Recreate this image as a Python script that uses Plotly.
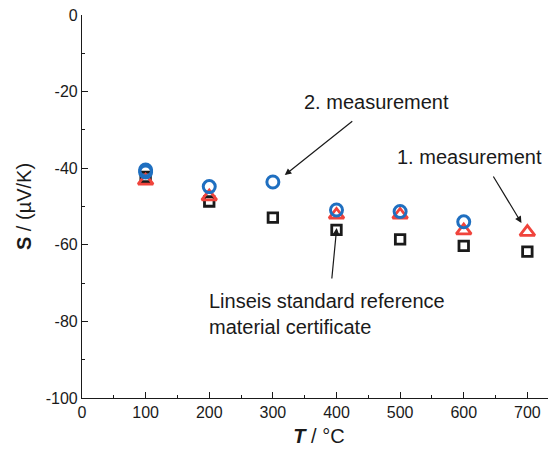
import plotly.graph_objects as go

T = [100, 200, 300, 400, 500, 600, 700]
S_ref = [-42.3, -48.7, -52.9, -56.1, -58.6, -60.3, -61.8]
T_m1 = [100, 200, 400, 500, 600, 700]
S_m1 = [-43.3, -47.4, -52.2, -52.2, -56.3, -56.7]
T_m2 = [100, 100, 200, 300, 400, 500, 600]
S_m2 = [-40.5, -41.0, -44.8, -43.6, -50.9, -51.3, -54.0]
x_ticks = [0, 100, 200, 300, 400, 500, 600, 700]
y_ticks = [-100, -80, -60, -40, -20, 0]
y_labels = ["-100", "-80", "-60", "-40", "-20", "0"]

font = "Liberation Sans, Arial, sans-serif"

fig = go.Figure()
fig.add_trace(go.Scatter(x=T, y=S_ref, mode="markers", name="Linseis",
                         marker=dict(symbol="square-open", size=9.5, color="#1a1a1a",
                                     line=dict(width=2.8, color="#1a1a1a"))))
fig.add_trace(go.Scatter(x=T_m1, y=S_m1, mode="markers", name="1. measurement",
                         marker=dict(symbol="triangle-up-open", size=13, color="#f0443c",
                                     line=dict(width=2.8, color="#f0443c"))))
fig.add_trace(go.Scatter(x=T_m2, y=S_m2, mode="markers", name="2. measurement",
                         marker=dict(symbol="circle-open", size=12, color="#1f6fc0",
                                     line=dict(width=3, color="#1f6fc0"))))

arrow = dict(showarrow=True, arrowhead=2, arrowsize=1.1, arrowwidth=1.2,
             arrowcolor="#1a1a1a", xref="x", yref="y")
fig.add_annotation(x=318.7, y=-41.8, ax=69, ay=-55, text="", **arrow)
fig.add_annotation(x=690.7, y=-54.3, ax=-29, ay=-48, text="", **arrow)
fig.add_annotation(x=400.3, y=-55.6, ax=-5, ay=52, text="", **arrow)

tfont = dict(family=font, size=20, color="#1a1a1a")
fig.add_annotation(x=463, y=-22.7, text="2. measurement", showarrow=False, font=tfont)
fig.add_annotation(x=609, y=-37.1, text="1. measurement", showarrow=False, font=tfont)
fig.add_annotation(x=196, y=-78, text="Linseis standard reference<br>material certificate",
                   showarrow=False, xanchor="left", align="left", font=tfont)

fig.update_layout(
    width=548, height=447,
    margin=dict(l=74, r=0, t=7, b=57, pad=0),
    paper_bgcolor="white", plot_bgcolor="white",
    showlegend=False,
    font=dict(family=font, size=16, color="#1a1a1a"),
    xaxis=dict(range=[0, 745], tickmode="array", tickvals=x_ticks, automargin=False,
               ticklabeloverflow="allow",
               ticks="inside", ticklen=6, tickwidth=1, tickcolor="#1a1a1a",
               minor=dict(tickvals=[50, 150, 250, 350, 450, 550, 650], ticks="inside", ticklen=3,
                          tickcolor="#1a1a1a"),
               showline=True, linecolor="#1a1a1a", linewidth=1.2, showgrid=False, zeroline=False,
               title=dict(text="<b><i>T</i></b> / °C", font=dict(size=20), standoff=8)),
    yaxis=dict(range=[-100, 0], tickmode="array", tickvals=y_ticks, ticktext=y_labels,
               automargin=False, ticklabeloverflow="allow",
               ticks="inside", ticklen=6, tickwidth=1, tickcolor="#1a1a1a",
               minor=dict(tickvals=[-90, -70, -50, -30, -10], ticks="inside", ticklen=3,
                          tickcolor="#1a1a1a"),
               showline=True, linecolor="#1a1a1a", linewidth=1.2, showgrid=False, zeroline=False,
               title=dict(text="<b>S</b> / (µV/K)", font=dict(size=20), standoff=8)),
)
fig.write_html("out.html")
